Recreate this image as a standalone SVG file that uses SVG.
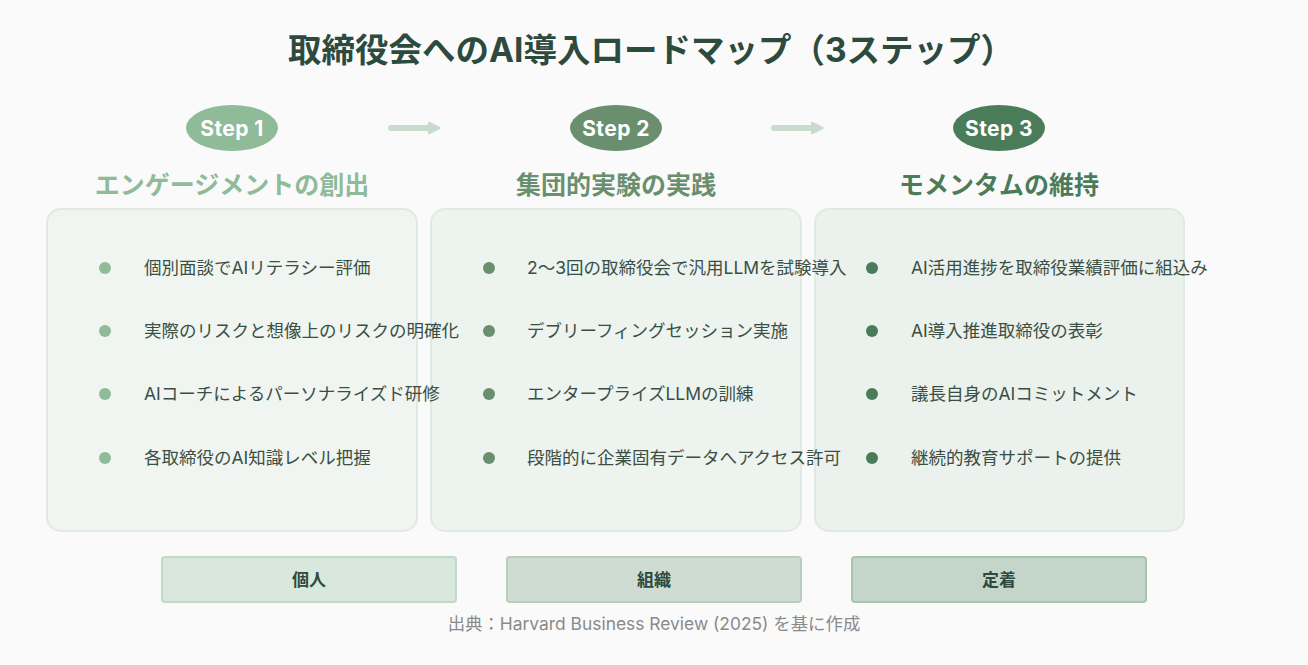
<svg xmlns="http://www.w3.org/2000/svg" width="1308" height="665" viewBox="0 0 1308 665">
<defs>
<style>
text{font-family:Inter,"Noto Sans CJK JP",sans-serif;}
.title{font-size:33.5px;font-weight:700;fill:#2d4a3e;text-anchor:middle;}
.step{font-size:21px;font-weight:700;fill:#ffffff;text-anchor:middle;letter-spacing:0.4px;}
.sub{font-size:25px;font-weight:700;text-anchor:middle;}
.panel{stroke:#e0eae3;stroke-width:2;}
.item{font-size:17.5px;fill:#3a4f44;}
.tag{font-size:17px;font-weight:700;fill:#2d4a3e;text-anchor:middle;}
.cite{font-size:17.4px;fill:#8a8a8a;text-anchor:middle;}
.conn{stroke:#c8dbcc;stroke-width:6;stroke-linecap:round;fill:none;}
</style>
<marker id="ah" viewBox="0 0 10 10" refX="4" refY="5" markerWidth="2.2" markerHeight="2.4" orient="auto" markerUnits="strokeWidth">
<path d="M1,1 L9,5 L1,9 Z" fill="#c8dbcc" stroke="#c8dbcc" stroke-width="1.5" stroke-linejoin="round"/>
</marker>
</defs>
<rect width="1308" height="665" fill="#fafafa"/>
<text class="title" x="651" y="62">取締役会へのAI導入ロードマップ（3ステップ）</text>

<g id="connectors">
<line class="conn" x1="391" y1="128" x2="433" y2="128" marker-end="url(#ah)"/>
<line class="conn" x1="774" y1="128" x2="816" y2="128" marker-end="url(#ah)"/>
</g>

<g id="panels">
<rect class="panel" x="47" y="209" width="370" height="322" rx="14" fill="#f0f5f1"/>
<rect class="panel" x="431" y="209" width="370" height="322" rx="14" fill="#edf3ef"/>
<rect class="panel" x="815" y="209" width="369" height="322" rx="14" fill="#ebf1ec"/>
</g>

<g id="step1">
<ellipse cx="232" cy="128" rx="46" ry="23" fill="#8fbb99"/>
<text class="step" x="232" y="135.5">Step 1</text>
<text class="sub" x="232" y="194" fill="#8fbb99">エンゲージメントの創出</text>
<g fill="#8fbb99">
<circle cx="105" cy="268" r="6"/><circle cx="105" cy="331" r="6"/><circle cx="105" cy="394" r="6"/><circle cx="105" cy="458" r="6"/>
</g>
<text class="item" x="144" y="274">個別面談でAIリテラシー評価</text>
<text class="item" x="144" y="337">実際のリスクと想像上のリスクの明確化</text>
<text class="item" x="144" y="400">AIコーチによるパーソナライズド研修</text>
<text class="item" x="144" y="464">各取締役のAI知識レベル把握</text>
</g>

<g id="step2">
<ellipse cx="616" cy="128" rx="46" ry="23" fill="#6a8f6f"/>
<text class="step" x="616" y="135.5">Step 2</text>
<text class="sub" x="616" y="194" fill="#6a8f6f">集団的実験の実践</text>
<g fill="#6a8f6f">
<circle cx="489" cy="268" r="6"/><circle cx="489" cy="331" r="6"/><circle cx="489" cy="394" r="6"/><circle cx="489" cy="458" r="6"/>
</g>
<text class="item" x="527" y="274">2〜3回の取締役会で汎用LLMを試験導入</text>
<text class="item" x="527" y="337">デブリーフィングセッション実施</text>
<text class="item" x="527" y="400">エンタープライズLLMの訓練</text>
<text class="item" x="527" y="464">段階的に企業固有データへアクセス許可</text>
</g>

<g id="step3">
<ellipse cx="999" cy="128" rx="46" ry="23" fill="#4a7c59"/>
<text class="step" x="999" y="135.5">Step 3</text>
<text class="sub" x="999" y="194" fill="#4a7c59">モメンタムの維持</text>
<g fill="#4a7c59">
<circle cx="872" cy="268" r="6"/><circle cx="872" cy="331" r="6"/><circle cx="872" cy="394" r="6"/><circle cx="872" cy="458" r="6"/>
</g>
<text class="item" x="911" y="274">AI活用進捗を取締役業績評価に組込み</text>
<text class="item" x="911" y="337">AI導入推進取締役の表彰</text>
<text class="item" x="911" y="400">議長自身のAIコミットメント</text>
<text class="item" x="911" y="464">継続的教育サポートの提供</text>
</g>

<g id="tag1">
<rect x="162" y="557" width="294" height="45" rx="3" fill="#d9e8dd" stroke="#c3d9c8" stroke-width="2"/>
<text class="tag" x="309" y="586">個人</text>
</g>
<g id="tag2">
<rect x="507" y="557" width="294" height="45" rx="3" fill="#cfdcd2" stroke="#b9cdbe" stroke-width="2"/>
<text class="tag" x="654" y="586">組織</text>
</g>
<g id="tag3">
<rect x="852" y="557" width="294" height="45" rx="3" fill="#c4d6c9" stroke="#a9c4ae" stroke-width="2"/>
<text class="tag" x="999" y="586">定着</text>
</g>

<text class="cite" x="654" y="630">出典：Harvard Business Review (2025) を基に作成</text>
</svg>
